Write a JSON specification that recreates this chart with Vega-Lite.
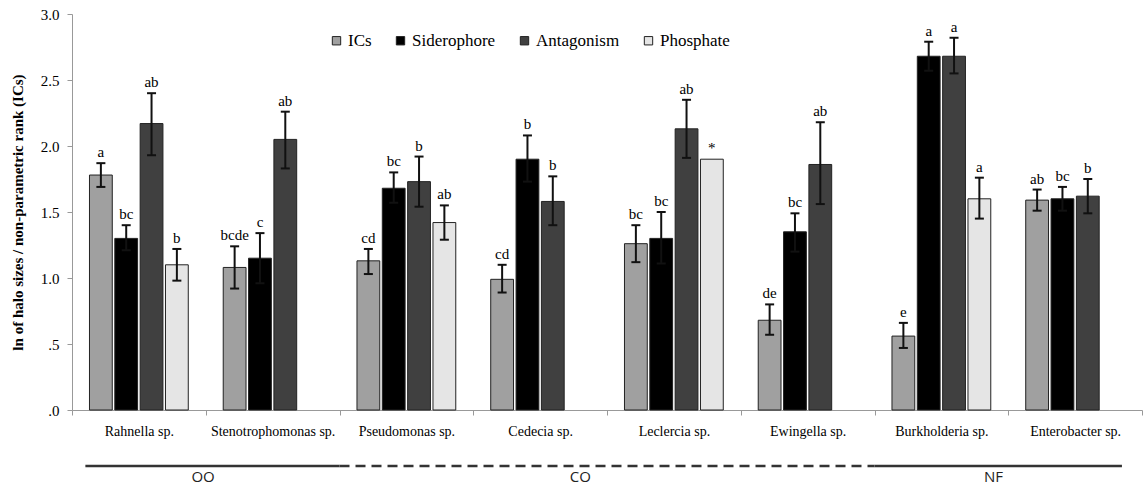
{
  "$schema": "https://vega.github.io/schema/vega-lite/v6.json",
  "padding": {"left": 10, "top": 7, "right": 2, "bottom": 0},
  "background": "white",
  "spacing": 18,
  "config": {"view": {"stroke": null}, "font": "Liberation Serif", "legend": {"labelFont": "Liberation Serif", "labelFontSize": 17}},
  "datasets": {
    "bars": [
      {"species": "Rahnella sp.", "trait": "ICs", "value": 1.78, "lo": 1.69, "hi": 1.87, "letter": "a"},
      {"species": "Rahnella sp.", "trait": "Siderophore", "value": 1.30, "lo": 1.21, "hi": 1.40, "letter": "bc"},
      {"species": "Rahnella sp.", "trait": "Antagonism", "value": 2.17, "lo": 1.93, "hi": 2.40, "letter": "ab"},
      {"species": "Rahnella sp.", "trait": "Phosphate", "value": 1.10, "lo": 0.98, "hi": 1.22, "letter": "b"},
      {"species": "Stenotrophomonas sp.", "trait": "ICs", "value": 1.08, "lo": 0.92, "hi": 1.24, "letter": "bcde"},
      {"species": "Stenotrophomonas sp.", "trait": "Siderophore", "value": 1.15, "lo": 0.96, "hi": 1.34, "letter": "c"},
      {"species": "Stenotrophomonas sp.", "trait": "Antagonism", "value": 2.05, "lo": 1.83, "hi": 2.26, "letter": "ab"},
      {"species": "Pseudomonas sp.", "trait": "ICs", "value": 1.13, "lo": 1.03, "hi": 1.22, "letter": "cd"},
      {"species": "Pseudomonas sp.", "trait": "Siderophore", "value": 1.68, "lo": 1.57, "hi": 1.80, "letter": "bc"},
      {"species": "Pseudomonas sp.", "trait": "Antagonism", "value": 1.73, "lo": 1.54, "hi": 1.92, "letter": "b"},
      {"species": "Pseudomonas sp.", "trait": "Phosphate", "value": 1.42, "lo": 1.29, "hi": 1.55, "letter": "ab"},
      {"species": "Cedecia sp.", "trait": "ICs", "value": 0.99, "lo": 0.89, "hi": 1.10, "letter": "cd"},
      {"species": "Cedecia sp.", "trait": "Siderophore", "value": 1.90, "lo": 1.73, "hi": 2.08, "letter": "b"},
      {"species": "Cedecia sp.", "trait": "Antagonism", "value": 1.58, "lo": 1.40, "hi": 1.77, "letter": "b"},
      {"species": "Leclercia sp.", "trait": "ICs", "value": 1.26, "lo": 1.12, "hi": 1.40, "letter": "bc"},
      {"species": "Leclercia sp.", "trait": "Siderophore", "value": 1.30, "lo": 1.11, "hi": 1.50, "letter": "bc"},
      {"species": "Leclercia sp.", "trait": "Antagonism", "value": 2.13, "lo": 1.91, "hi": 2.35, "letter": "ab"},
      {"species": "Leclercia sp.", "trait": "Phosphate", "value": 1.90, "lo": null, "hi": null, "letter": "*"},
      {"species": "Ewingella sp.", "trait": "ICs", "value": 0.68, "lo": 0.57, "hi": 0.80, "letter": "de"},
      {"species": "Ewingella sp.", "trait": "Siderophore", "value": 1.35, "lo": 1.20, "hi": 1.49, "letter": "bc"},
      {"species": "Ewingella sp.", "trait": "Antagonism", "value": 1.86, "lo": 1.56, "hi": 2.18, "letter": "ab"},
      {"species": "Burkholderia sp.", "trait": "ICs", "value": 0.56, "lo": 0.47, "hi": 0.66, "letter": "e"},
      {"species": "Burkholderia sp.", "trait": "Siderophore", "value": 2.68, "lo": 2.57, "hi": 2.79, "letter": "a"},
      {"species": "Burkholderia sp.", "trait": "Antagonism", "value": 2.68, "lo": 2.55, "hi": 2.82, "letter": "a"},
      {"species": "Burkholderia sp.", "trait": "Phosphate", "value": 1.60, "lo": 1.45, "hi": 1.76, "letter": "a"},
      {"species": "Enterobacter sp.", "trait": "ICs", "value": 1.59, "lo": 1.51, "hi": 1.67, "letter": "ab"},
      {"species": "Enterobacter sp.", "trait": "Siderophore", "value": 1.60, "lo": 1.51, "hi": 1.69, "letter": "bc"},
      {"species": "Enterobacter sp.", "trait": "Antagonism", "value": 1.62, "lo": 1.49, "hi": 1.75, "letter": "b"}
    ],
    "groups": [
      {"grp": "OO", "start": "Rahnella sp.", "end": "Stenotrophomonas sp.", "labelAt": "Rahnella sp."},
      {"grp": "CO", "start": "Pseudomonas sp.", "end": "Ewingella sp.", "labelAt": "Cedecia sp."},
      {"grp": "NF", "start": "Burkholderia sp.", "end": "Enterobacter sp.", "labelAt": "Burkholderia sp."}
    ]
  },
  "vconcat": [
    {
      "width": 1070,
      "height": 396,
      "data": {"name": "bars"},
      "encoding": {
        "x": {
          "field": "species", "type": "nominal",
          "scale": {"domain": ["Rahnella sp.", "Stenotrophomonas sp.", "Pseudomonas sp.", "Cedecia sp.", "Leclercia sp.", "Ewingella sp.", "Burkholderia sp.", "Enterobacter sp."], "paddingInner": 0, "paddingOuter": 0},
          "axis": {"title": null, "labelAngle": 0, "labelFont": "Liberation Serif", "labelFontSize": 14, "labelColor": "#000", "domainColor": "#999", "tickColor": "#999", "tickSize": 5, "tickBand": "extent", "labelPadding": 9}
        },
        "xOffset": {
          "field": "trait", "type": "nominal",
          "scale": {"domain": ["ICs", "Siderophore", "Antagonism", "Phosphate"], "paddingInner": 0.1, "paddingOuter": 0.69}
        }
      },
      "layer": [
        {
          "mark": {"type": "bar", "stroke": "#222", "strokeWidth": 1},
          "encoding": {
            "y": {
              "field": "value", "type": "quantitative",
              "title": "ln of halo sizes / non-parametric rank (ICs)",
              "scale": {"domain": [0, 3], "nice": false},
              "axis": {"titleFont": "Liberation Serif", "titleFontSize": 15, "titleFontWeight": "bold", "titleColor": "#000", "titlePadding": 15, "values": [0, 0.5, 1, 1.5, 2, 2.5, 3], "labelExpr": "datum.value < 1 ? slice(format(datum.value, '.1f'), 1) : format(datum.value, '.1f')", "labelFont": "Liberation Serif", "labelFontSize": 15, "labelColor": "#000", "labelPadding": 8, "tickSize": 5, "tickColor": "#999", "domainColor": "#999", "grid": false}
            },
            "color": {
              "field": "trait", "type": "nominal",
              "scale": {"domain": ["ICs", "Siderophore", "Antagonism", "Phosphate"], "range": ["#a0a0a0", "#000000", "#404040", "#e5e5e5"]},
              "legend": {"title": null, "orient": "none", "legendX": 256, "legendY": 18, "direction": "horizontal", "symbolType": "square", "symbolSize": 70, "symbolStrokeColor": "#222", "symbolStrokeWidth": 1, "symbolOpacity": 1, "labelFont": "Liberation Serif", "labelFontSize": 17, "labelColor": "#000", "labelOffset": 3, "columnPadding": 20, "padding": 0}
            }
          }
        },
        {
          "transform": [{"filter": "isValid(datum.hi)"}],
          "mark": {"type": "rule", "color": "#111", "strokeWidth": 2},
          "encoding": {
            "y": {"field": "lo", "type": "quantitative", "title": "ln of halo sizes / non-parametric rank (ICs)"},
            "y2": {"field": "hi"}
          }
        },
        {
          "transform": [{"filter": "isValid(datum.hi)"}],
          "mark": {"type": "tick", "color": "#111", "thickness": 2, "size": 9, "opacity": 1},
          "encoding": {
            "y": {"field": "hi", "type": "quantitative", "title": "ln of halo sizes / non-parametric rank (ICs)"}
          }
        },
        {
          "transform": [{"filter": "isValid(datum.lo)"}],
          "mark": {"type": "tick", "color": "#111", "thickness": 2, "size": 9, "opacity": 1},
          "encoding": {
            "y": {"field": "lo", "type": "quantitative", "title": "ln of halo sizes / non-parametric rank (ICs)"}
          }
        },
        {
          "transform": [{"filter": "isValid(datum.hi)"}],
          "mark": {"type": "text", "baseline": "bottom", "dy": -3, "font": "Liberation Serif", "fontSize": 15, "color": "#000"},
          "encoding": {
            "y": {"field": "hi", "type": "quantitative", "title": "ln of halo sizes / non-parametric rank (ICs)"},
            "text": {"field": "letter"}
          }
        },
        {
          "transform": [{"filter": "!isValid(datum.hi)"}],
          "mark": {"type": "text", "baseline": "bottom", "dy": -3, "font": "Liberation Serif", "fontSize": 15, "color": "#000"},
          "encoding": {
            "y": {"field": "value", "type": "quantitative", "title": "ln of halo sizes / non-parametric rank (ICs)"},
            "text": {"field": "letter"}
          }
        }
      ]
    },
    {
      "width": 1070,
      "height": 20,
      "data": {"name": "groups"},
      "layer": [
        {
          "transform": [{"filter": "datum.grp == 'OO'"}],
          "mark": {"type": "rule", "color": "#333", "strokeWidth": 2.5},
          "encoding": {
            "x": {"field": "start", "type": "nominal", "bandPosition": 0.1, "axis": null, "scale": {"domain": ["Rahnella sp.", "Stenotrophomonas sp.", "Pseudomonas sp.", "Cedecia sp.", "Leclercia sp.", "Ewingella sp.", "Burkholderia sp.", "Enterobacter sp."], "paddingInner": 0, "paddingOuter": 0}},
            "x2": {"field": "end", "bandPosition": 1}
          }
        },
        {
          "transform": [{"filter": "datum.grp == 'CO'"}],
          "mark": {"type": "rule", "color": "#333", "strokeWidth": 2.5, "strokeDash": [10, 6]},
          "encoding": {
            "x": {"field": "start", "type": "nominal", "bandPosition": 0, "axis": null},
            "x2": {"field": "end", "bandPosition": 1}
          }
        },
        {
          "transform": [{"filter": "datum.grp == 'NF'"}],
          "mark": {"type": "rule", "color": "#333", "strokeWidth": 2.5},
          "encoding": {
            "x": {"field": "start", "type": "nominal", "bandPosition": 0, "axis": null},
            "x2": {"field": "end", "bandPosition": 0.85}
          }
        },
        {
          "transform": [{"filter": "datum.grp == 'OO'"}],
          "mark": {"type": "text", "font": "Open Sans", "fontSize": 15, "baseline": "alphabetic", "dy": 16, "color": "#222"},
          "encoding": {
            "x": {"field": "labelAt", "type": "nominal", "bandPosition": 0.98, "axis": null},
            "text": {"field": "grp"}
          }
        },
        {
          "transform": [{"filter": "datum.grp == 'CO'"}],
          "mark": {"type": "text", "font": "Open Sans", "fontSize": 15, "baseline": "alphabetic", "dy": 16, "color": "#222"},
          "encoding": {
            "x": {"field": "labelAt", "type": "nominal", "bandPosition": 0.8, "axis": null},
            "text": {"field": "grp"}
          }
        },
        {
          "transform": [{"filter": "datum.grp == 'NF'"}],
          "mark": {"type": "text", "font": "Open Sans", "fontSize": 15, "baseline": "alphabetic", "dy": 16, "color": "#222"},
          "encoding": {
            "x": {"field": "labelAt", "type": "nominal", "bandPosition": 0.89, "axis": null},
            "text": {"field": "grp"}
          }
        }
      ]
    }
  ]
}
